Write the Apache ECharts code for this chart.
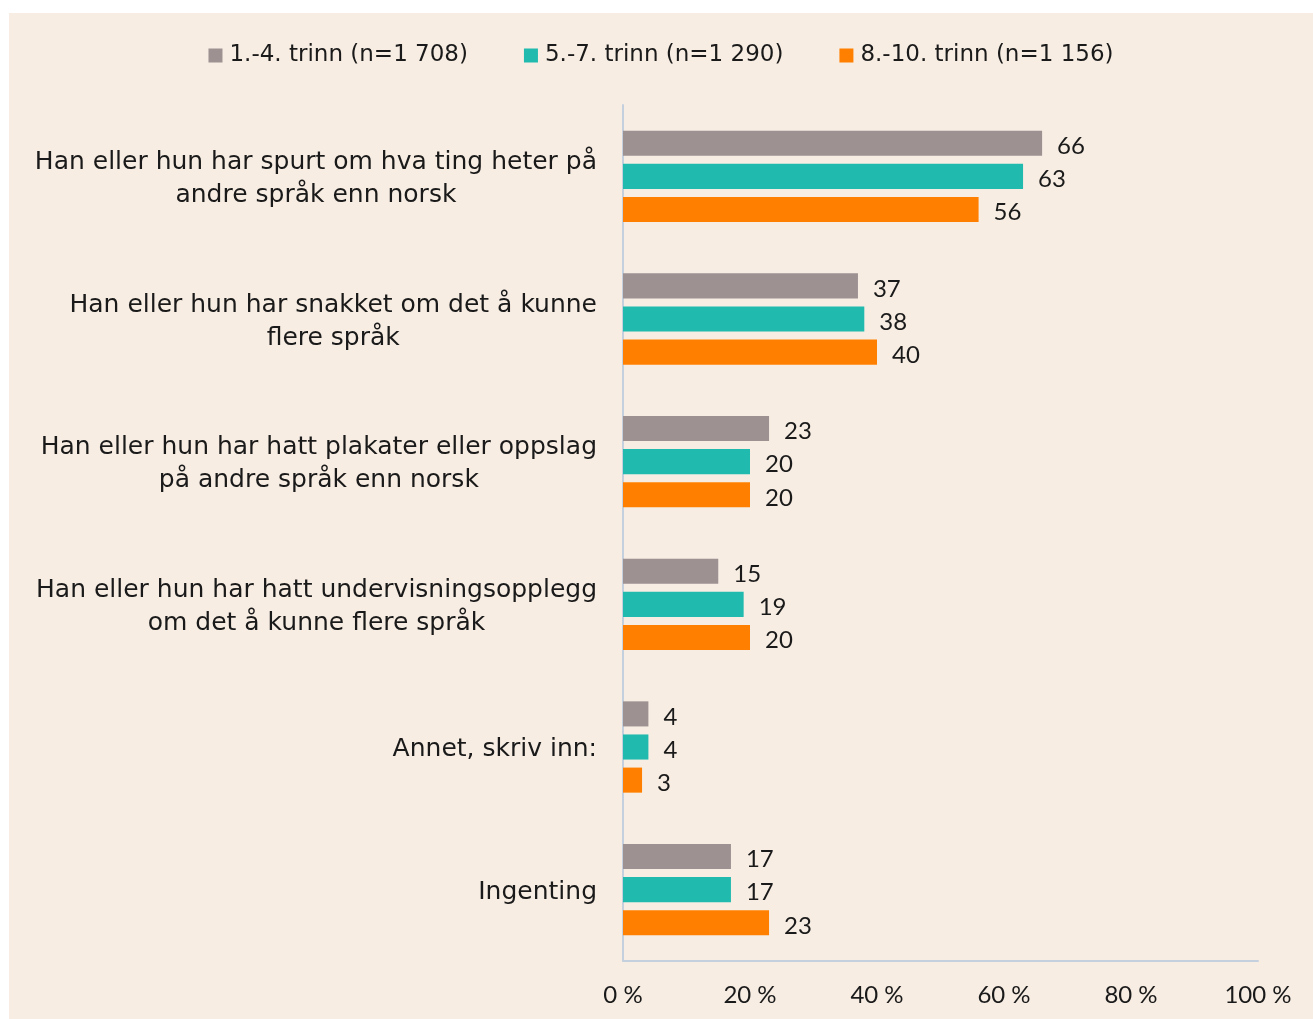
<!DOCTYPE html>
<html>
<head>
<meta charset="utf-8">
<script src="https://cdn.jsdelivr.net/npm/echarts@6/dist/echarts.min.js"></script>
<style>
  html, body { margin: 0; padding: 0; background: #ffffff; }
  #chart { position: absolute; left: 9px; top: 13px; width: 1304px; height: 1006px; background: #F7EDE3; }
</style>
</head>
<body>
<div id="chart"></div>
<script>
// Tiltak læreren har gjort, etter trinn (prosent)
const categories = [
  'Han eller hun har spurt om hva ting heter på\nandre språk enn norsk',
  'Han eller hun har snakket om det å kunne\nflere språk',
  'Han eller hun har hatt plakater eller oppslag\npå andre språk enn norsk',
  'Han eller hun har hatt undervisningsopplegg\nom det å kunne flere språk',
  'Annet, skriv inn:',
  'Ingenting'
];
const seriesNames = ['1.-4. trinn (n=1 708)', '5.-7. trinn (n=1 290)', '8.-10. trinn (n=1 156)'];
const trinn1til4 = [66, 37, 23, 15, 4, 17];
const trinn5til7 = [63, 38, 20, 19, 4, 17];
const trinn8til10 = [56, 40, 20, 20, 3, 23];
const colors = ['#9D9191', '#21BAAF', '#FF8000'];

const FONT = 'DejaVu Sans';
const NUM_FONT = 'Lato';
const TEXT = '#1a1a1a';

const chart = echarts.init(document.getElementById('chart'));

function barSeries(name, data, color) {
  return {
    name: name,
    type: 'bar',
    data: data,
    barGap: '32%',
    barCategoryGap: '36%',
    itemStyle: { color: color },
    label: {
      show: true,
      position: 'right',
      distance: 15,
      offset: [0, 3],
      color: TEXT,
      fontFamily: NUM_FONT,
      fontSize: 24
    }
  };
}

chart.setOption({
  backgroundColor: 'transparent',
  animation: false,
  textStyle: { fontFamily: FONT, color: TEXT },
  legend: {
    top: 26,
    left: 'center',
    itemWidth: 14,
    itemHeight: 14,
    itemGap: 56,
    icon: 'rect',
    textStyle: { fontSize: 23, color: TEXT, fontFamily: FONT, padding: [0, 0, 0, 2] },
    data: seriesNames
  },
  grid: { left: 614, right: 55, top: 92, bottom: 58, containLabel: false },
  xAxis: {
    type: 'value',
    min: 0,
    max: 100,
    interval: 20,
    axisLine: { show: true, lineStyle: { color: '#C5D0DE', width: 2 } },
    axisTick: { show: false },
    splitLine: { show: false },
    axisLabel: {
      formatter: '{value} %',
      fontSize: 24,
      color: TEXT,
      fontFamily: NUM_FONT,
      margin: 22
    }
  },
  yAxis: {
    type: 'category',
    inverse: true,
    data: categories,
    axisLine: { show: true, lineStyle: { color: '#C5D0DE', width: 2 } },
    axisTick: { show: false },
    axisLabel: {
      margin: 26,
      fontSize: 25,
      fontFamily: FONT,
      color: TEXT,
      lineHeight: 33,
      padding: [5, 0, 0, 0],
      formatter: function (v) {
        return v.split('\n').map(function (l) { return '{c|' + l + '}'; }).join('\n');
      },
      rich: {
        c: { align: 'center', fontSize: 25, fontFamily: FONT, color: TEXT, lineHeight: 33 }
      }
    }
  },
  series: [
    barSeries(seriesNames[0], trinn1til4, colors[0]),
    barSeries(seriesNames[1], trinn5til7, colors[1]),
    barSeries(seriesNames[2], trinn8til10, colors[2])
  ]
});
</script>
</body>
</html>
